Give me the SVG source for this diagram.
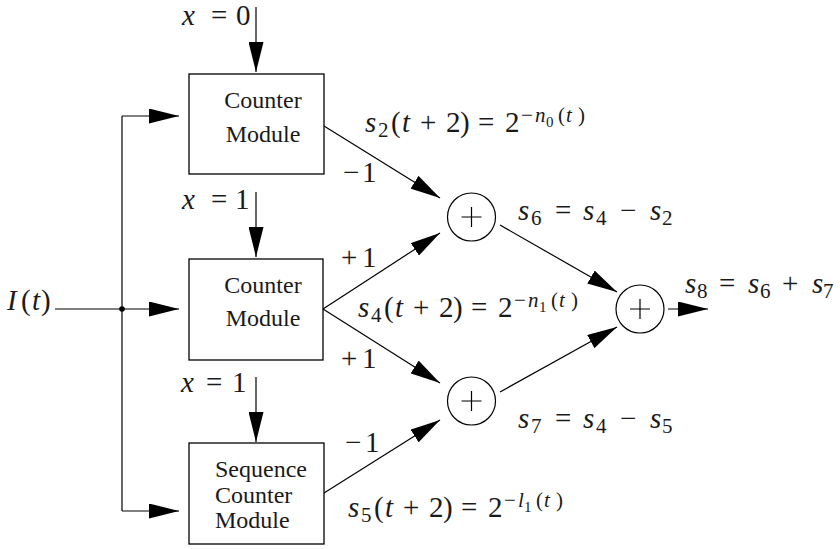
<svg xmlns="http://www.w3.org/2000/svg" width="840" height="549" viewBox="0 0 840 549">
<style>
.bx{fill:none;stroke:#000;stroke-width:1.3}
.ln{fill:none;stroke:#000;stroke-width:1.2}
.ar{marker-end:url(#ah)}
.sum{fill:#fff;stroke:#000;stroke-width:1.2}
.m{font-family:'Liberation Serif','Times New Roman','DejaVu Serif',serif;font-size:29px;fill:#1a1a1a}
.i{font-style:italic}
.sb{font-size:21px}
.ss{font-size:15px}
.lb{font-family:'Liberation Serif','Times New Roman','DejaVu Serif',serif;font-size:24px;fill:#1a1a1a}
</style>
<defs>
<marker id="ah" viewBox="0 0 30 15" refX="30" refY="7.5" markerWidth="30" markerHeight="15" markerUnits="userSpaceOnUse" orient="auto">
<path d="M0,0 L30,7.5 L0,15 z" fill="#000"/>
</marker>
</defs>

<g id="connectors">
<line class="ln" x1="55" y1="309" x2="122" y2="309"/>
<line class="ln ar" x1="122" y1="309" x2="179" y2="309"/>
<line class="ln" x1="122" y1="116" x2="122" y2="511"/>
<line class="ln ar" x1="122" y1="116" x2="179" y2="116"/>
<line class="ln ar" x1="122" y1="511" x2="179" y2="511"/>
<circle cx="122" cy="309" r="2.8" fill="#000"/>
<line class="ln ar" x1="256" y1="7" x2="256" y2="72"/>
<line class="ln ar" x1="256" y1="192" x2="256" y2="257"/>
<line class="ln ar" x1="256" y1="377" x2="256" y2="442"/>
<line class="ln ar" x1="324" y1="126" x2="440" y2="198"/>
<line class="ln ar" x1="323" y1="309" x2="440" y2="233"/>
<line class="ln ar" x1="323" y1="309" x2="440" y2="383"/>
<line class="ln ar" x1="324" y1="493" x2="440" y2="420"/>
<line class="ln ar" x1="500" y1="225" x2="617" y2="292"/>
<line class="ln ar" x1="500" y1="392" x2="617" y2="327"/>
<line class="ln ar" x1="668" y1="309" x2="708" y2="309"/>
</g>

<g id="counter1">
<rect class="bx" x="189" y="74" width="135" height="100"/>
<text class="lb" x="263" y="108" text-anchor="middle">Counter</text>
<text class="lb" x="263" y="142" text-anchor="middle">Module</text>
</g>
<g id="counter2">
<rect class="bx" x="189" y="259" width="134" height="101"/>
<text class="lb" x="263" y="293" text-anchor="middle">Counter</text>
<text class="lb" x="263" y="326" text-anchor="middle">Module</text>
</g>
<g id="seqcounter">
<rect class="bx" x="189" y="443" width="135" height="101"/>
<text class="lb" x="215" y="477">Sequence</text>
<text class="lb" x="215" y="503">Counter</text>
<text class="lb" x="215" y="528">Module</text>
</g>

<g id="sum1">
<circle class="sum" cx="471.5" cy="217" r="24"/>
<path class="ln" d="M461.5,217 H481.5 M471.5,207 V227"/>
</g>
<g id="sum2">
<circle class="sum" cx="471.5" cy="401" r="24"/>
<path class="ln" d="M461.5,401 H481.5 M471.5,391 V411"/>
</g>
<g id="sum3">
<circle class="sum" cx="640" cy="309" r="24"/>
<path class="ln" d="M630,309 H650 M640,299 V319"/>
</g>

<g id="labels">
<text class="m"><tspan class="i" x="7" y="310">I</tspan><tspan x="21" y="310">(</tspan><tspan class="i" x="32" y="310">t</tspan><tspan x="41" y="310">)</tspan></text>

<text class="m"><tspan class="i" x="182" y="25">x</tspan><tspan x="211" y="25">=</tspan><tspan x="236" y="25">0</tspan></text>
<text class="m"><tspan class="i" x="182" y="209">x</tspan><tspan x="211" y="209">=</tspan><tspan x="235" y="209">1</tspan></text>
<text class="m"><tspan class="i" x="181" y="392">x</tspan><tspan x="206" y="392">=</tspan><tspan x="232" y="392">1</tspan></text>

<text class="m"><tspan x="343" y="182">−</tspan><tspan x="362" y="182">1</tspan></text>
<text class="m"><tspan x="341" y="267">+</tspan><tspan x="362" y="267">1</tspan></text>
<text class="m"><tspan x="341" y="368">+</tspan><tspan x="362" y="368">1</tspan></text>
<text class="m"><tspan x="345" y="452">−</tspan><tspan x="365" y="452">1</tspan></text>

<text class="m"><tspan class="i" x="365" y="132">s</tspan><tspan class="sb" x="378" y="137">2</tspan><tspan x="391" y="132">(</tspan><tspan class="i" x="402" y="132">t</tspan><tspan x="420" y="132">+</tspan><tspan x="446" y="132">2</tspan><tspan x="460" y="132">)</tspan><tspan x="478" y="132">=</tspan><tspan x="505" y="132">2</tspan><tspan class="sb" x="521" y="122">−</tspan><tspan class="sb i" x="535" y="122">n</tspan><tspan class="ss" x="546" y="127">0</tspan><tspan class="sb" x="558" y="122">(</tspan><tspan class="sb i" x="566" y="122">t</tspan><tspan class="sb" x="578" y="122">)</tspan></text>

<text class="m"><tspan class="i" x="358" y="317">s</tspan><tspan class="sb" x="371" y="322">4</tspan><tspan x="384" y="317">(</tspan><tspan class="i" x="395" y="317">t</tspan><tspan x="413" y="317">+</tspan><tspan x="439" y="317">2</tspan><tspan x="453" y="317">)</tspan><tspan x="471" y="317">=</tspan><tspan x="498" y="317">2</tspan><tspan class="sb" x="514" y="307">−</tspan><tspan class="sb i" x="528" y="307">n</tspan><tspan class="ss" x="539" y="312">1</tspan><tspan class="sb" x="551" y="307">(</tspan><tspan class="sb i" x="559" y="307">t</tspan><tspan class="sb" x="571" y="307">)</tspan></text>

<text class="m"><tspan class="i" x="348" y="517">s</tspan><tspan class="sb" x="361" y="522">5</tspan><tspan x="374" y="517">(</tspan><tspan class="i" x="385" y="517">t</tspan><tspan x="403" y="517">+</tspan><tspan x="429" y="517">2</tspan><tspan x="443" y="517">)</tspan><tspan x="461" y="517">=</tspan><tspan x="488" y="517">2</tspan><tspan class="sb" x="504" y="507">−</tspan><tspan class="sb i" x="518" y="507">l</tspan><tspan class="ss" x="524" y="512">1</tspan><tspan class="sb" x="536" y="507">(</tspan><tspan class="sb i" x="544" y="507">t</tspan><tspan class="sb" x="556" y="507">)</tspan></text>

<text class="m"><tspan class="i" x="518" y="220">s</tspan><tspan class="sb" x="531" y="225">6</tspan><tspan x="555" y="220">=</tspan><tspan class="i" x="583" y="220">s</tspan><tspan class="sb" x="596" y="225">4</tspan><tspan x="620" y="220">−</tspan><tspan class="i" x="650" y="220">s</tspan><tspan class="sb" x="662" y="225">2</tspan></text>

<text class="m"><tspan class="i" x="518" y="428">s</tspan><tspan class="sb" x="531" y="433">7</tspan><tspan x="555" y="428">=</tspan><tspan class="i" x="583" y="428">s</tspan><tspan class="sb" x="596" y="433">4</tspan><tspan x="620" y="428">−</tspan><tspan class="i" x="650" y="428">s</tspan><tspan class="sb" x="662" y="433">5</tspan></text>

<text class="m"><tspan class="i" x="685" y="293">s</tspan><tspan class="sb" x="697" y="298">8</tspan><tspan x="719" y="293">=</tspan><tspan class="i" x="748" y="293">s</tspan><tspan class="sb" x="760" y="298">6</tspan><tspan x="782" y="293">+</tspan><tspan class="i" x="812" y="293">s</tspan><tspan class="sb" x="823" y="298">7</tspan></text>
</g>
</svg>
